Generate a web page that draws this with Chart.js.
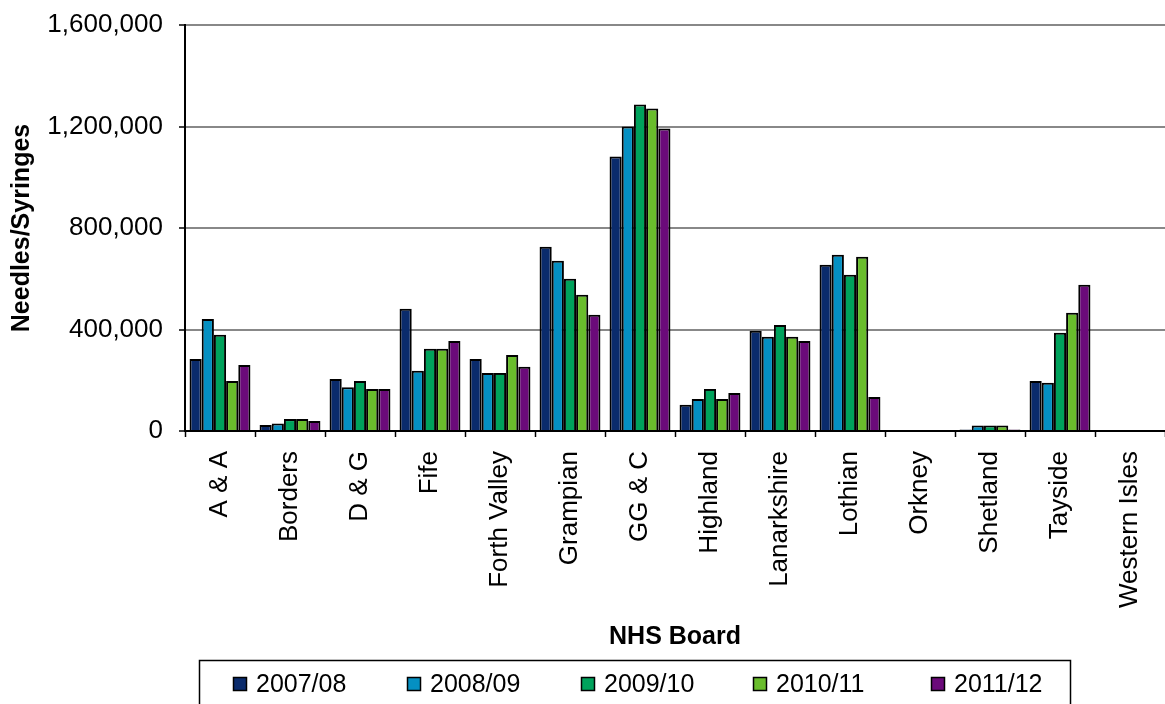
<!DOCTYPE html>
<html lang="en">
<head>
    <meta charset="UTF-8">
    <title>Needles/Syringes by NHS Board</title>
    <script src="https://cdn.jsdelivr.net/npm/chart.js"></script>
    <style>
        body {
            margin: 0;
            background: #ffffff;
        }
        .chart-box {
            width: 1165px;
            height: 704px;
        }
    </style>
</head>
<body>
    <div class="chart-box">
        <canvas id="needleChart" width="1165" height="704"></canvas>
    </div>

    <script>
        const boards = ['A & A', 'Borders', 'D & G', 'Fife', 'Forth Valley', 'Grampian', 'GG & C',
            'Highland', 'Lanarkshire', 'Lothian', 'Orkney', 'Shetland', 'Tayside', 'Western Isles'];
        const years = ['2007/08', '2008/09', '2009/10', '2010/11', '2011/12'];

        const y0708 = [284000, 24000, 205000, 482000, 284000, 726000, 1082000, 103000, 395000, 655000, 0, 6000, 197000, 0];
        const y0809 = [441000, 30000, 172000, 237000, 229000, 671000, 1200000, 126000, 371000, 695000, 0, 22000, 190000, 0];
        const y0910 = [379000, 47000, 197000, 324000, 229000, 600000, 1287000, 166000, 418000, 616000, 0, 22000, 387000, 0];
        const y1011 = [197000, 47000, 166000, 324000, 300000, 537000, 1271000, 126000, 371000, 687000, 0, 22000, 466000, 0];
        const y1112 = [260000, 39000, 166000, 355000, 253000, 458000, 1192000, 150000, 355000, 134000, 0, 6000, 576000, 0];

        const yTicks = [0, 400000, 800000, 1200000, 1600000];
        const colours = ['#0a2b6c', '#0590c2', '#00a25c', '#69bd2c', '#6b0a7a'];

        const fontFamily = "'Liberation Sans', Arial, sans-serif";

        // boxed legend under the axis title, like the original
        const boxedLegend = {
            id: 'boxedLegend',
            afterDraw(chart) {
                const ctx = chart.ctx;
                ctx.save();
                ctx.strokeStyle = '#000';
                ctx.lineWidth = 1.5;
                ctx.strokeRect(199.5, 660.5, 871, 50);
                const xs = [233, 407, 581, 753, 931];
                ctx.font = '25px ' + fontFamily;
                ctx.textBaseline = 'middle';
                chart.data.datasets.forEach((ds, i) => {
                    ctx.fillStyle = ds.backgroundColor;
                    ctx.fillRect(xs[i], 677, 14, 14);
                    ctx.strokeStyle = '#000';
                    ctx.lineWidth = 1.5;
                    ctx.strokeRect(xs[i] + 0.5, 677.5, 13, 13);
                    ctx.fillStyle = '#000';
                    ctx.fillText(ds.label, xs[i] + 23, 685);
                });
                ctx.restore();
            }
        };

        const series = [y0708, y0809, y0910, y1011, y1112];

        new Chart(document.getElementById('needleChart'), {
            type: 'bar',
            data: {
                labels: boards,
                datasets: series.map((vals, i) => ({
                    label: years[i],
                    data: vals,
                    backgroundColor: colours[i],
                    borderColor: '#000',
                    borderWidth: 2,
                    categoryPercentage: 0.87,
                    barPercentage: 1.0
                }))
            },
            options: {
                responsive: false,
                animation: false,
                layout: {
                    padding: { top: 25, right: 0, bottom: 44, left: 0 }
                },
                plugins: {
                    legend: { display: false },
                    tooltip: { enabled: false }
                },
                scales: {
                    x: {
                        afterFit: (s) => {
                            s.height = 229;
                            s.paddingLeft = 0;
                            s.paddingRight = 0;
                        },
                        grid: {
                            display: true,
                            drawOnChartArea: false,
                            drawTicks: true,
                            tickLength: 6,
                            tickColor: '#000',
                            tickWidth: 1.5,
                            offset: true
                        },
                        border: { color: '#000', width: 2 },
                        ticks: {
                            autoSkip: false,
                            minRotation: 90,
                            maxRotation: 90,
                            padding: 14,
                            color: '#000',
                            font: { family: fontFamily, size: 26 }
                        },
                        title: {
                            display: true,
                            text: 'NHS Board',
                            color: '#000',
                            padding: { top: 0, bottom: 8 },
                            font: { family: fontFamily, size: 25, weight: 'bold' }
                        }
                    },
                    y: {
                        min: 0,
                        max: 1600000,
                        afterFit: (s) => {
                            s.width = 185;
                            s.paddingTop = 0;
                            s.paddingBottom = 0;
                        },
                        afterBuildTicks: (s) => { s.ticks = yTicks.map(v => ({ value: v })); },
                        grid: {
                            color: '#888',
                            lineWidth: 2,
                            tickLength: 6,
                            tickColor: '#000',
                            tickWidth: 1.5
                        },
                        border: { color: '#000', width: 2 },
                        ticks: {
                            padding: 16,
                            color: '#000',
                            font: { family: fontFamily, size: 26 },
                            callback: (v) => v.toLocaleString('en-US')
                        },
                        title: {
                            display: true,
                            text: 'Needles/Syringes',
                            color: '#000',
                            padding: { top: 7, bottom: 0 },
                            font: { family: fontFamily, size: 25, weight: 'bold' }
                        }
                    }
                }
            },
            plugins: [boxedLegend]
        });
    </script>
</body>
</html>
